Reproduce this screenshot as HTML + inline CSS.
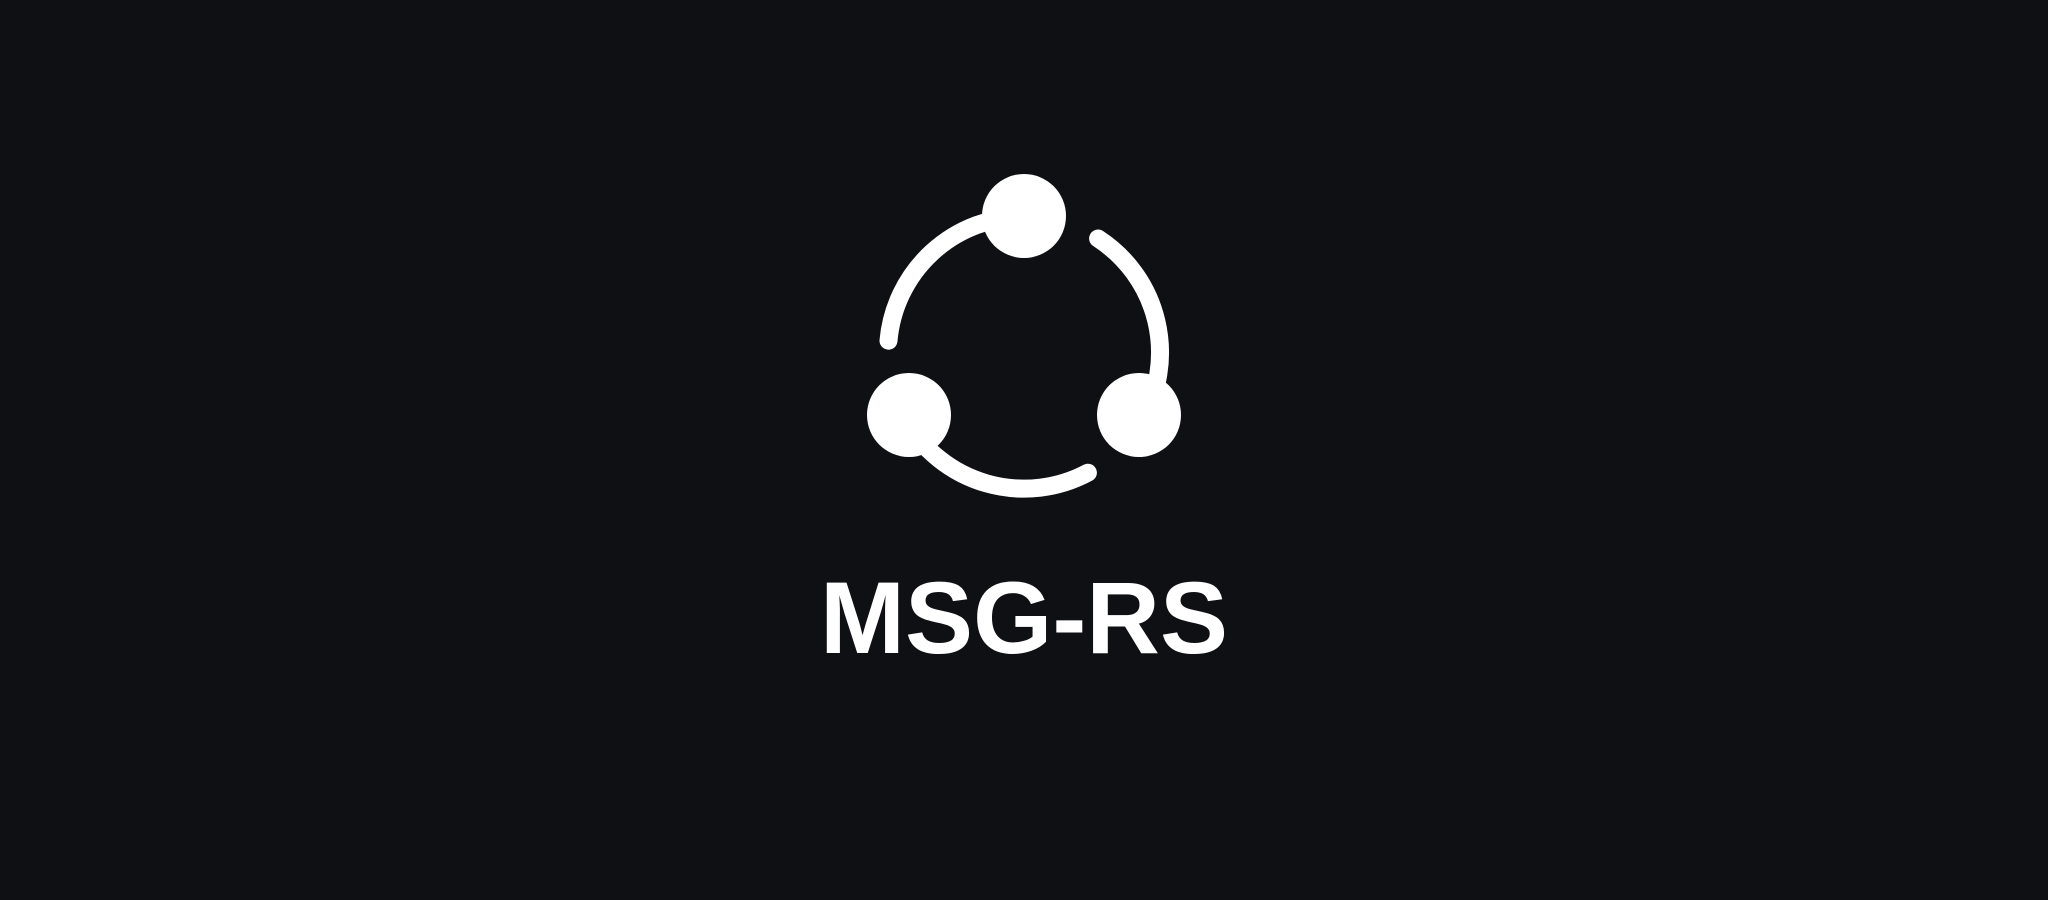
<!DOCTYPE html>
<html>
<head>
<meta charset="utf-8">
<style>
html,body{margin:0;padding:0;background:#0f1014;}
body{width:2048px;height:900px;overflow:hidden;position:relative;}
svg{position:absolute;left:0;top:0;}
</style>
</head>
<body>
<svg width="2048" height="900" viewBox="0 0 2048 900">
  <g fill="none" stroke="#ffffff" stroke-width="18" stroke-linecap="round">
    <path d="M1024 216.6 A136 136 0 0 0 888.5 340.7"/>
    <path d="M906.2 420.6 A136 136 0 0 0 1087.9 472.7"/>
    <path d="M1141.8 420.6 A136 136 0 0 0 1098.1 238.5"/>
  </g>
  <circle cx="1024" cy="216" r="42" fill="#ffffff"/>
  <circle cx="909" cy="415" r="42" fill="#ffffff"/>
  <circle cx="1139" cy="415" r="42" fill="#ffffff"/>
  <text x="1024" y="653" text-anchor="middle" font-family="Liberation Sans, sans-serif" font-weight="bold" font-size="102" fill="#ffffff">MSG-RS</text>
</svg>
</body>
</html>
